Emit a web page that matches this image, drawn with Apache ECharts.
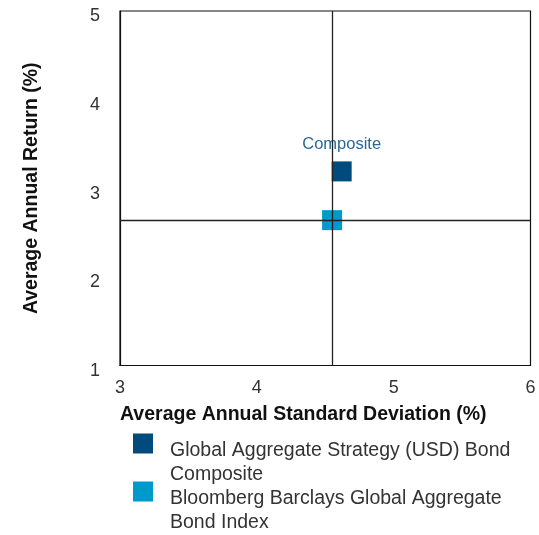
<!DOCTYPE html>
<html><head><meta charset="utf-8">
<script src="https://cdn.jsdelivr.net/npm/echarts@6/dist/echarts.min.js"></script>
<style>html,body{margin:0;padding:0;background:#fff}#c{width:539px;height:535px}</style>
</head><body><div id="c"></div>
<script>
const seriesNames = ['Global Aggregate Strategy (USD) Bond Composite', 'Bloomberg Barclays Global Aggregate Bond Index'];
const legendLines = [['Global Aggregate Strategy (USD) Bond', 'Composite'], ['Bloomberg Barclays Global Aggregate', 'Bond Index']];
const compositePoint = [4.62, 3.19];
const indexPoint = [4.55, 2.64];
const xTicks = [3, 4, 5, 6];
const yTicks = [1, 2, 3, 4, 5];
const colors = ['#004b7b', '#0099cc'];

const font = 'Liberation Sans, Arial, sans-serif';
const chart = echarts.init(document.getElementById('c'));
function legendFor(i, top) {
  return {
    data: [seriesNames[i]], left: 133, top: top, orient: 'vertical', padding: 0,
    icon: 'rect', itemWidth: 20, itemHeight: 20,
    formatter: () => '{p| }\n{t|' + legendLines[i][0] + '}\n{t|' + legendLines[i][1] + '}',
    selectedMode: false,
    textStyle: {
      padding: [0, 0, 0, 12],
      rich: {
        p: { fontSize: 10, lineHeight: 38 },
        t: { fontFamily: font, fontSize: 19.5, color: '#333', lineHeight: 24 }
      }
    }
  };
}
chart.setOption({
  animation: false,
  color: colors,
  title: {
    text: 'Average Annual Standard Deviation (%)', left: 120, top: 405, padding: 0,
    textStyle: { fontFamily: font, fontSize: 19.5, fontWeight: 'bold', color: '#111' }
  },
  legend: [legendFor(0, 414.5), legendFor(1, 462.5)],
  grid: { left: 120, right: 8.5, top: 11, bottom: 169.5, show: true, borderColor: '#111', borderWidth: 1.2, backgroundColor: 'transparent' },
  xAxis: {
    type: 'value', min: xTicks[0], max: xTicks[xTicks.length - 1], interval: 1,
    axisLine: { show: true, lineStyle: { color: '#111', width: 1.2 } },
    axisTick: { show: false }, splitLine: { show: false },
    axisLabel: { fontFamily: font, fontSize: 18, color: '#333', margin: 14 }
  },
  yAxis: {
    type: 'value', min: yTicks[0], max: yTicks[yTicks.length - 1], interval: 1,
    name: 'Average Annual Return (%)', nameLocation: 'middle', nameGap: 78, nameRotate: 90,
    nameTextStyle: { fontFamily: font, fontSize: 19.5, fontWeight: 'bold', color: '#111' },
    axisLine: { show: true, lineStyle: { color: '#111', width: 1.2 } },
    axisTick: { show: false }, splitLine: { show: false },
    axisLabel: {
      margin: 20, formatter: '{a|{value}}',
      rich: { a: { fontFamily: font, fontSize: 18, color: '#333', padding: [11, 0, 0, 0] } }
    }
  },
  series: [
    {
      name: seriesNames[1], type: 'scatter', symbol: 'rect', symbolSize: 20,
      data: [indexPoint], itemStyle: { color: colors[1], opacity: 1 }, z: 3,
      markLine: {
        silent: true, symbol: 'none', label: { show: false },
        lineStyle: { color: '#222', width: 1.3, type: 'solid', opacity: 1 },
        data: [{ xAxis: indexPoint[0] }, { yAxis: indexPoint[1] }]
      }
    },
    {
      name: seriesNames[0], type: 'scatter', symbol: 'rect', symbolSize: 20,
      data: [compositePoint], itemStyle: { color: colors[0], opacity: 1 }, z: 4,
      label: { show: true, position: 'top', distance: 8, formatter: 'Composite', fontFamily: font, fontSize: 16.5, color: '#2d6895' }
    }
  ]
});
</script></body></html>
